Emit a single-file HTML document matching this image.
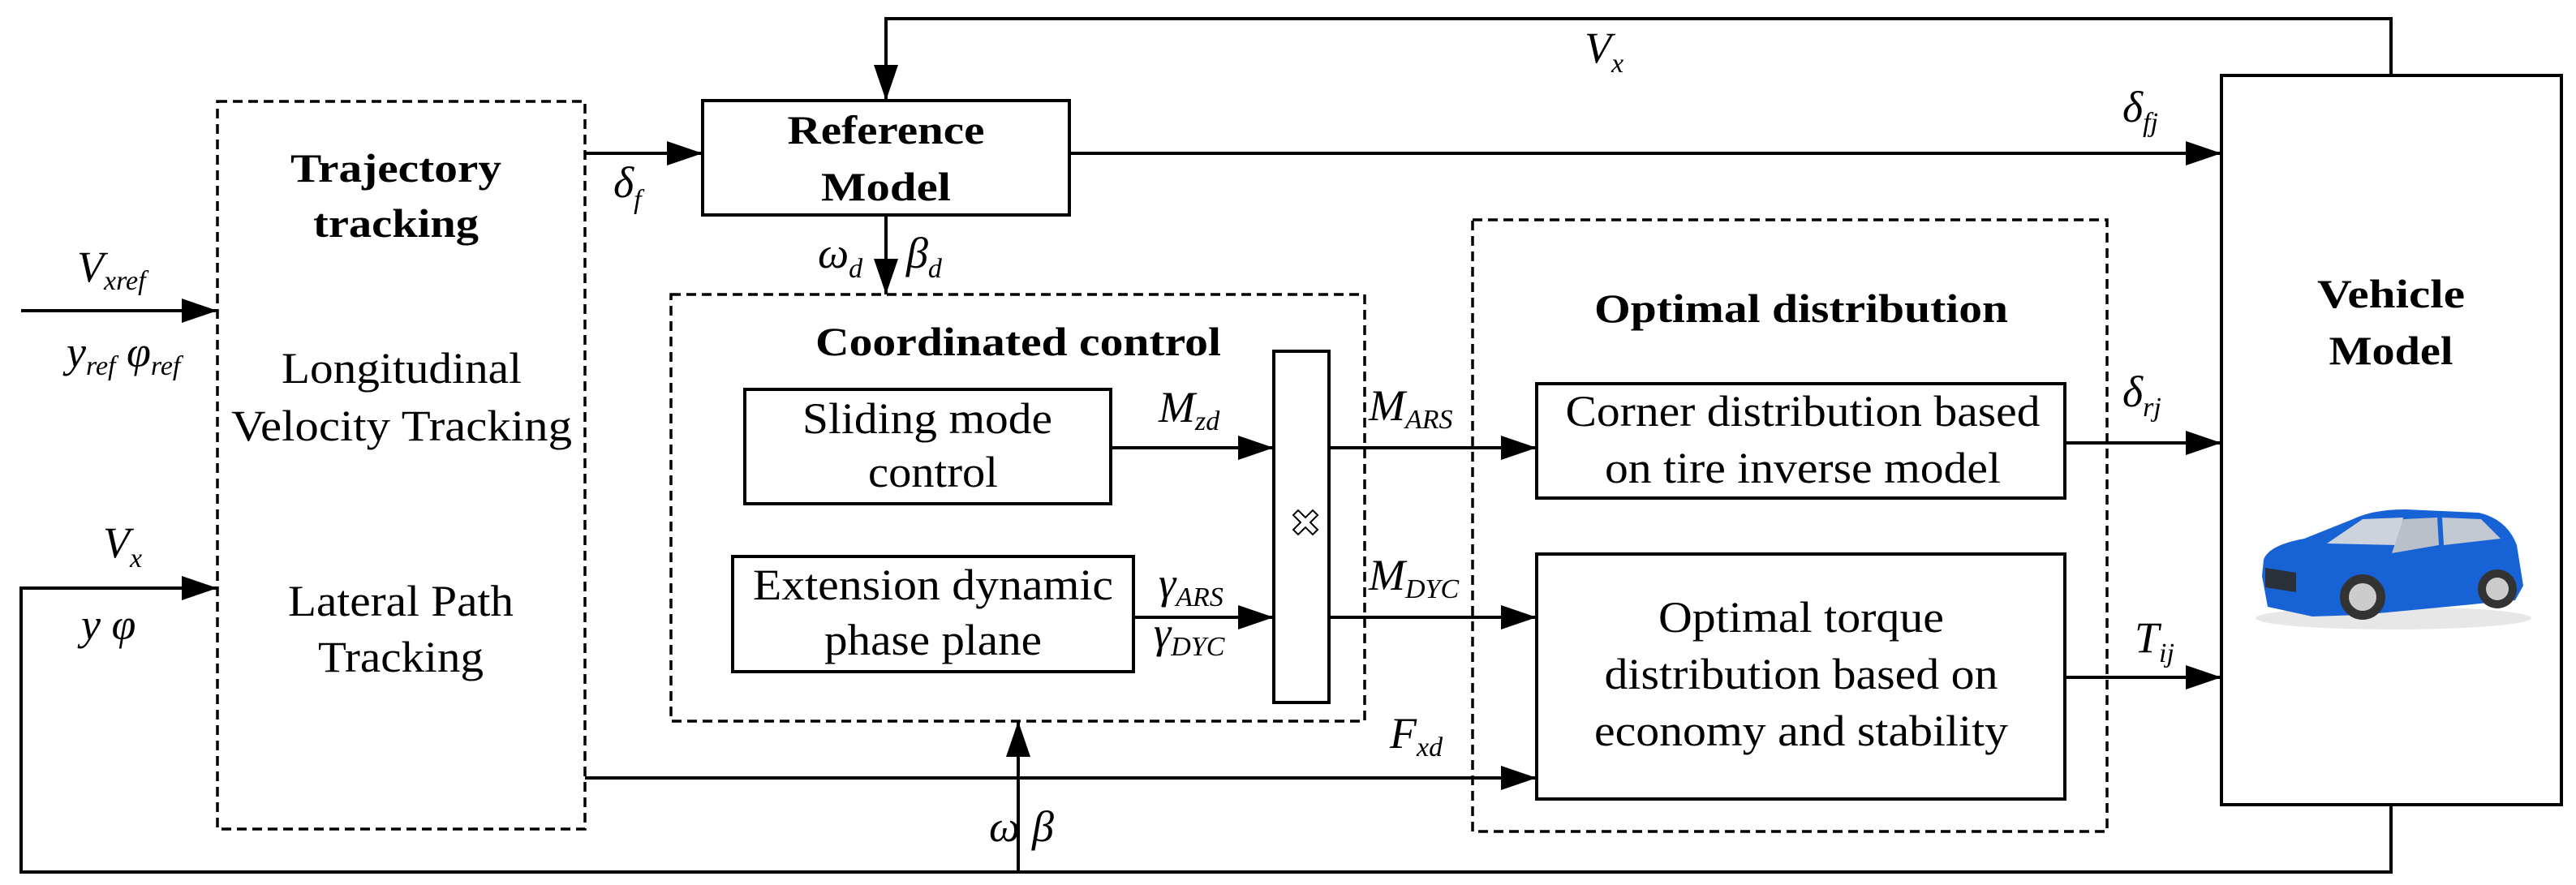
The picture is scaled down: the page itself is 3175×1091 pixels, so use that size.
<!DOCTYPE html>
<html><head><meta charset="utf-8"><style>
html,body{margin:0;padding:0;background:#fff;}
svg{display:block;font-family:"Liberation Serif","Times New Roman",serif;}
text{font-family:"Liberation Serif","Times New Roman",serif;fill:#000;}
.b{font-weight:bold;font-size:50px;}
.r{font-size:54px;}
.i{font-style:italic;font-size:54px;}
.s{font-size:34px;}
</style></head><body>
<svg width="3175" height="1091" viewBox="0 0 3175 1091" xmlns="http://www.w3.org/2000/svg" font-family="Liberation Serif, serif">
<defs>
<marker id="a" markerWidth="44" markerHeight="30" refX="44" refY="15" orient="auto" markerUnits="userSpaceOnUse">
<path d="M0,0 L44,15 L0,30 Z" fill="#000"/>
</marker>
</defs>
<g fill="none" stroke="#000" stroke-width="4">
<rect x="268" y="125" width="453" height="897" stroke-dasharray="12,7" stroke-width="3.5"/>
<rect x="827" y="363" width="855" height="526" stroke-dasharray="12,7" stroke-width="3.5"/>
<rect x="1815" y="271" width="782" height="754" stroke-dasharray="12,7" stroke-width="3.5"/>
<rect x="866" y="124" width="452" height="141"/>
<rect x="918" y="480" width="451" height="141"/>
<rect x="903" y="686" width="494" height="142"/>
<rect x="1570" y="433" width="68" height="433"/>
<rect x="1894" y="473" width="651" height="141"/>
<rect x="1894" y="683" width="651" height="302"/>
<rect x="2738" y="93" width="419" height="899"/>
<polyline points="2947,93 2947,23 1092,23 1092,124" marker-end="url(#a)"/>
<line x1="721" y1="189" x2="866" y2="189" marker-end="url(#a)"/>
<line x1="1318" y1="189" x2="2738" y2="189" marker-end="url(#a)"/>
<line x1="1092" y1="265" x2="1092" y2="363" marker-end="url(#a)"/>
<line x1="26" y1="383" x2="268" y2="383" marker-end="url(#a)"/>
<polyline points="2947,992 2947,1075 26,1075 26,725 268,725" marker-end="url(#a)"/>
<line x1="1255" y1="1075" x2="1255" y2="889" marker-end="url(#a)"/>
<line x1="1369" y1="552" x2="1570" y2="552" marker-end="url(#a)"/>
<line x1="1397" y1="761" x2="1570" y2="761" marker-end="url(#a)"/>
<line x1="1638" y1="552" x2="1894" y2="552" marker-end="url(#a)"/>
<line x1="1638" y1="761" x2="1894" y2="761" marker-end="url(#a)"/>
<line x1="721" y1="959" x2="1894" y2="959" marker-end="url(#a)"/>
<line x1="2545" y1="546" x2="2738" y2="546" marker-end="url(#a)"/>
<line x1="2545" y1="835" x2="2738" y2="835" marker-end="url(#a)"/>
</g>
<path d="M1594,635 l6,-6 l9,9 l9,-9 l6,6 l-9,9 l9,9 l-6,6 l-9,-9 l-9,9 l-6,-6 l9,-9 z" fill="#fff" stroke="#000" stroke-width="2"/>
<g text-anchor="middle">
<text class="b" x="488" y="224" textLength="260" lengthAdjust="spacingAndGlyphs">Trajectory</text>
<text class="b" x="488" y="292" textLength="204" lengthAdjust="spacingAndGlyphs">tracking</text>
<text class="r" x="495" y="472" textLength="296" lengthAdjust="spacingAndGlyphs">Longitudinal</text>
<text class="r" x="495" y="543" textLength="420" lengthAdjust="spacingAndGlyphs">Velocity Tracking</text>
<text class="r" x="494" y="759" textLength="278" lengthAdjust="spacingAndGlyphs">Lateral Path</text>
<text class="r" x="494" y="828" textLength="204" lengthAdjust="spacingAndGlyphs">Tracking</text>
<text class="b" x="1092" y="177" textLength="243" lengthAdjust="spacingAndGlyphs">Reference</text>
<text class="b" x="1092" y="247" textLength="160" lengthAdjust="spacingAndGlyphs">Model</text>
<text class="b" x="1255" y="438" textLength="500" lengthAdjust="spacingAndGlyphs">Coordinated control</text>
<text class="r" x="1143" y="534" textLength="308" lengthAdjust="spacingAndGlyphs">Sliding mode</text>
<text class="r" x="1150" y="600" textLength="160" lengthAdjust="spacingAndGlyphs">control</text>
<text class="r" x="1150" y="739" textLength="444" lengthAdjust="spacingAndGlyphs">Extension dynamic</text>
<text class="r" x="1150" y="807" textLength="268" lengthAdjust="spacingAndGlyphs">phase plane</text>
<text class="b" x="2220" y="397" textLength="510" lengthAdjust="spacingAndGlyphs">Optimal distribution</text>
<text class="r" x="2222" y="525" textLength="585" lengthAdjust="spacingAndGlyphs">Corner distribution based</text>
<text class="r" x="2222" y="595" textLength="488" lengthAdjust="spacingAndGlyphs">on tire inverse model</text>
<text class="r" x="2220" y="779" textLength="352" lengthAdjust="spacingAndGlyphs">Optimal torque</text>
<text class="r" x="2220" y="849" textLength="485" lengthAdjust="spacingAndGlyphs">distribution based on</text>
<text class="r" x="2220" y="919" textLength="510" lengthAdjust="spacingAndGlyphs">economy and stability</text>
<text class="b" x="2947" y="379" textLength="182" lengthAdjust="spacingAndGlyphs">Vehicle</text>
<text class="b" x="2947" y="449" textLength="153" lengthAdjust="spacingAndGlyphs">Model</text>
</g>
<g>
<text class="i" x="95" y="347">V<tspan class="s" dy="10">xref</tspan></text>
<text class="i" x="82" y="452">y<tspan class="s" dy="10">ref</tspan><tspan dy="-10"> φ</tspan><tspan class="s" dy="10">ref</tspan></text>
<text class="i" x="127" y="687">V<tspan class="s" dy="12">x</tspan></text>
<text class="i" x="100" y="788">y  φ</text>
<text class="i" x="756" y="243">δ<tspan class="s" dy="14">f</tspan></text>
<text class="i" x="1008" y="330">ω<tspan class="s" dy="12">d</tspan></text>
<text class="i" x="1117" y="330">β<tspan class="s" dy="12">d</tspan></text>
<text class="i" x="1428" y="520">M<tspan class="s" dy="10">zd</tspan></text>
<text class="i" x="1428" y="737">γ<tspan class="s" dy="10">ARS</tspan></text>
<text class="i" x="1422" y="798">γ<tspan class="s" dy="10">DYC</tspan></text>
<text class="i" x="1687" y="518">M<tspan class="s" dy="10">ARS</tspan></text>
<text class="i" x="1687" y="727">M<tspan class="s" dy="10">DYC</tspan></text>
<text class="i" x="1713" y="922">F<tspan class="s" dy="10">xd</tspan></text>
<text class="i" x="1219" y="1037">ω</text>
<text class="i" x="1272" y="1037">β</text>
<text class="i" x="1953" y="77">V<tspan class="s" dy="12">x</tspan></text>
<text class="i" x="2616" y="150">δ<tspan class="s" dy="12">fj</tspan></text>
<text class="i" x="2616" y="501">δ<tspan class="s" dy="12">rj</tspan></text>
<text class="i" x="2631" y="804">T<tspan class="s" dy="12">ij</tspan></text>
</g>
<g>
<ellipse cx="2950" cy="762" rx="170" ry="14" fill="#ddd" opacity="0.7"/>
<path d="M2788,710 L2790,690 Q2796,672 2840,664 L2900,640 Q2925,628 2965,628 L3055,632 Q3090,640 3102,672 L3110,722 L3100,740 L2910,758 L2850,760 L2795,748 Z" fill="#1763d6"/>
<path d="M2868,670 L2912,640 L2962,638 L2956,672 Z" fill="#cdd3dc"/>
<path d="M2962,640 L3004,638 L3006,672 L2948,682 Z" fill="#b9c0ca"/>
<path d="M3010,638 L3058,640 L3082,664 L3012,672 Z" fill="#c2c9d2"/>
<path d="M2792,700 L2830,706 L2830,730 L2792,724 Z" fill="#2a2f38"/>
<circle cx="2912" cy="736" r="28" fill="#333"/><circle cx="2912" cy="736" r="17" fill="#ccc"/>
<circle cx="3078" cy="726" r="24" fill="#333"/><circle cx="3078" cy="726" r="14" fill="#ccc"/>
</g>
</svg>
</body></html>
